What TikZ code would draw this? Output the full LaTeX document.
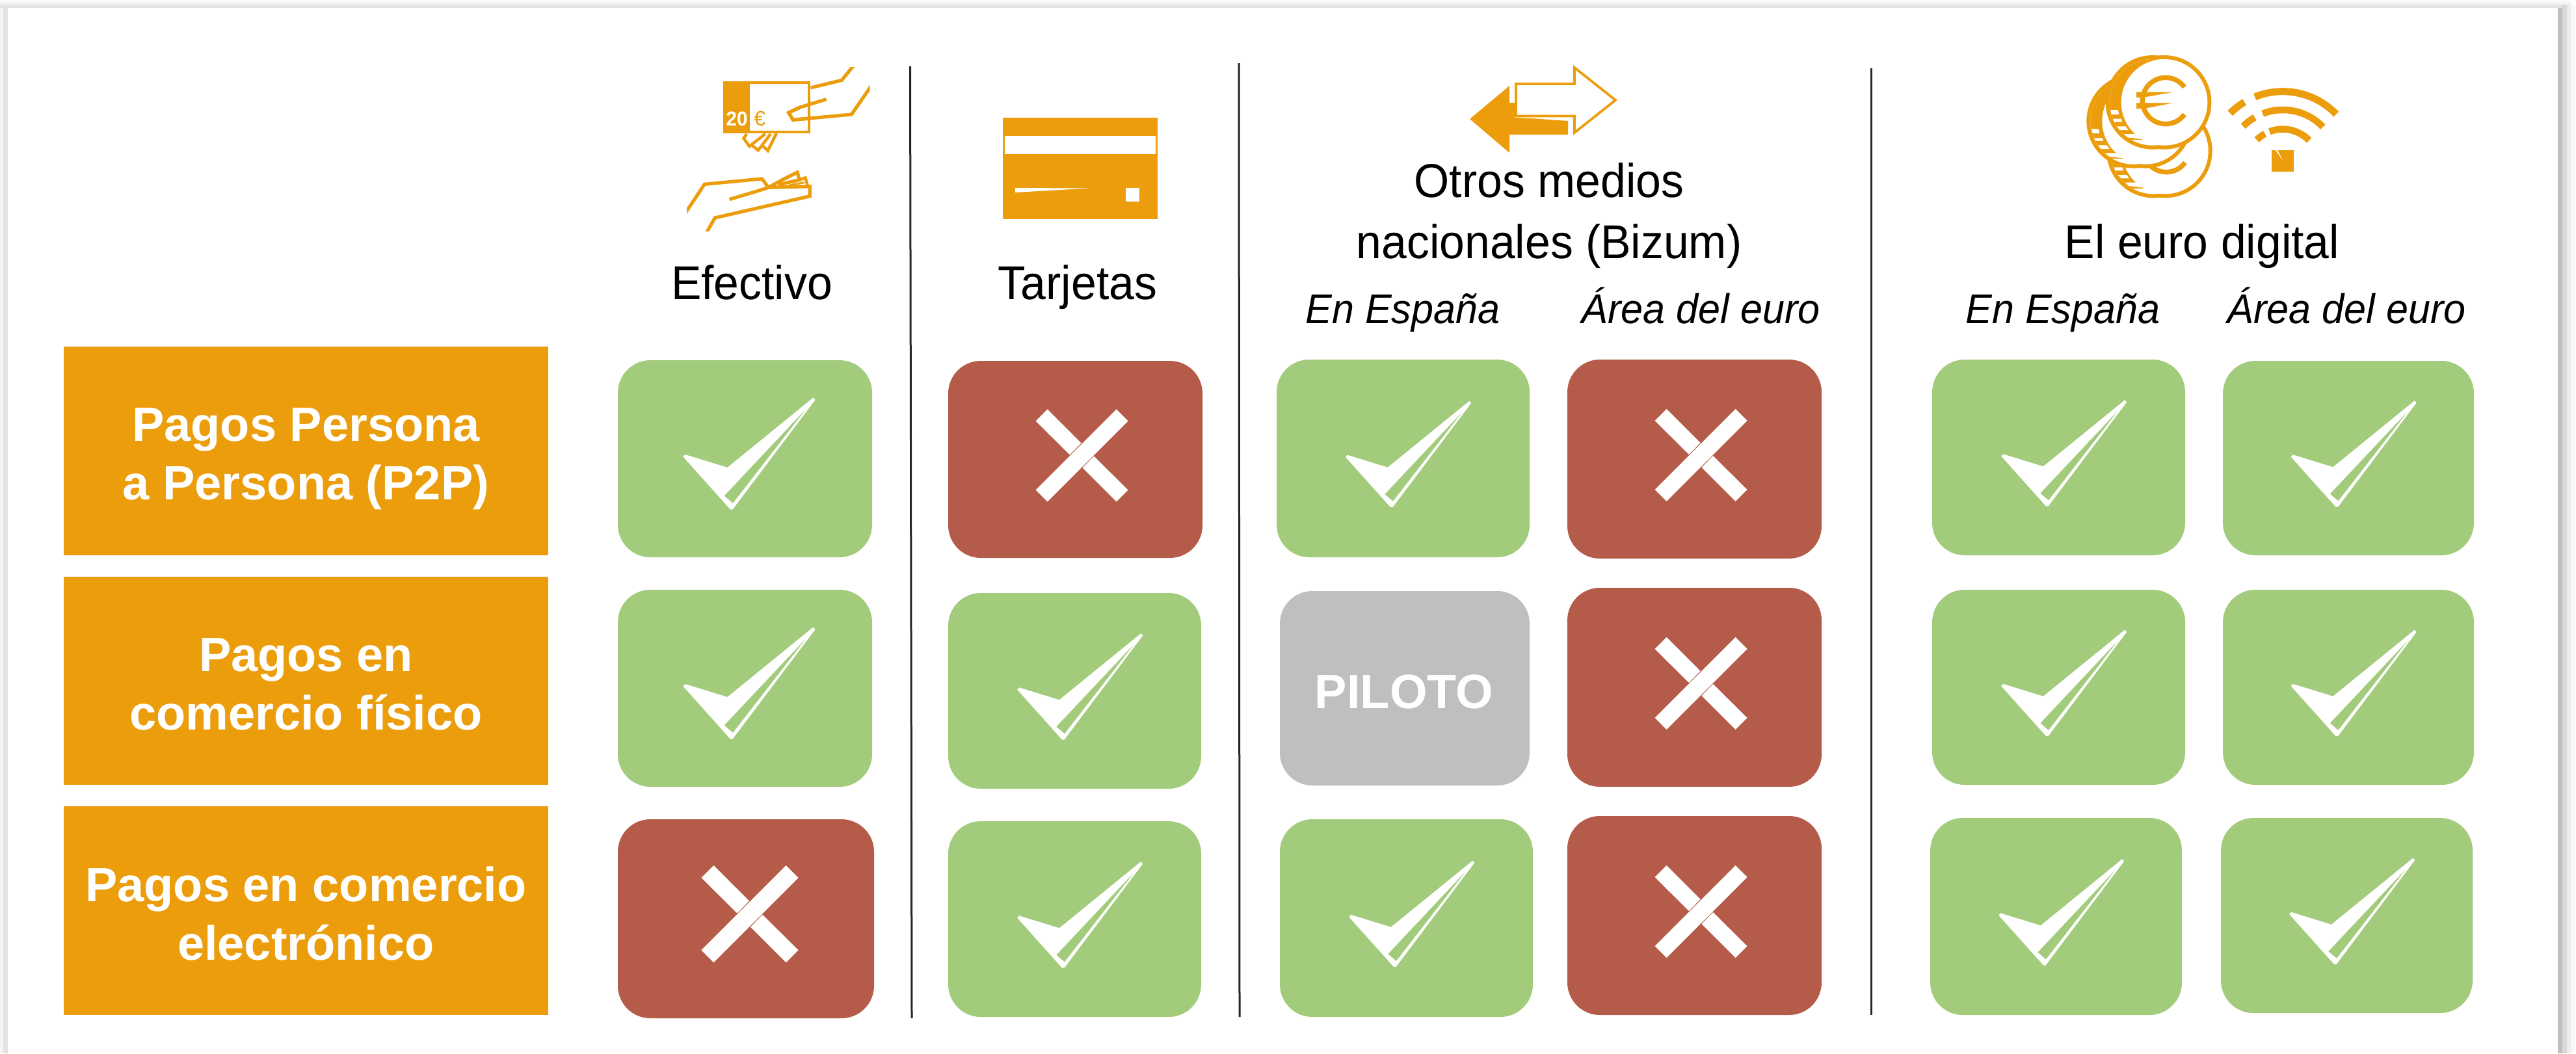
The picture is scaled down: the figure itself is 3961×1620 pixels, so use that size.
\documentclass[tikz,border=0pt]{standalone}
\usepackage{fontspec}
\setmainfont{Liberation Sans}
\newfontfamily\hdrf[FakeStretch=0.955]{Liberation Sans}
\definecolor{orangeC}{HTML}{EC9D0C}
\definecolor{greenC}{HTML}{A3CB7C}
\definecolor{redC}{HTML}{B45C49}
\definecolor{greyC}{HTML}{BFBFBF}
\tikzset{
  cellbox/.style={rounded corners=50pt,inner sep=0pt,outer sep=0pt},
  okbox/.style={cellbox,fill=greenC},
  nobox/.style={cellbox,fill=redC},
  pilotbox/.style={cellbox,fill=greyC,text=white,font=\fontsize{74}{90}\selectfont\bfseries},
  rowlabel/.style={fill=orangeC,text=white,inner sep=0pt,outer sep=0pt,align=center,font=\fontsize{74}{90}\selectfont\bfseries},
  hdr/.style={inner sep=0pt,outer sep=0pt,align=center,anchor=south,font=\hdrf\fontsize{73}{94}\selectfont},
  subhdr/.style={inner sep=0pt,outer sep=0pt,anchor=base,font=\hdrf\fontsize{64}{70}\selectfont\itshape},
  divider/.style={draw=black!85,line width=3pt},
  icon/.style={draw=orangeC,line width=5.2pt,miter limit=6},
}
\newcommand\mkbox[6]{\node[#1,minimum width={(#4-#2)*1pt},minimum height={(#5-#3)*1pt}] (#6) at ({(#2+#4)/2},{(#3+#5)/2}) {};}
\newcommand\chkmk[2]{\begin{scope}[shift={(#1.center)},xshift={(1-#2)*40pt},yshift={-(1-#2)*20pt},scale=#2]
  \fill[white,even odd rule] (105,-94)--(108,-90.5)--(-19,78)--(-22.5,78)--(-95,-3)--(-92,-6.5)--(-27,13.5)--cycle
     (96,-79)--(-32,57)--(-18.5,68.5)--cycle;
\end{scope}}
\newcommand\crossmk[4]{\begin{scope}[shift={(#1.center)},xshift=#2pt,yshift=#3pt,scale=#4]
  \fill[white] (53,-71)--(71,-53)--(-53,71)--(-71,53)--cycle;
  \fill[white] (-53,-71)--(-71,-53)--(-18.5,-1)--(-1,-19)--cycle;
  \fill[white] (53,71)--(71,53)--(18.5,1)--(1,19)--cycle;
\end{scope}}
\newcommand\okcell[6]{\mkbox{okbox}{#1}{#2}{#3}{#4}{#5}\chkmk{#5}{#6}}
\newcommand\nocell[5]{\mkbox{nobox}{#1}{#2}{#3}{#4}{#5}\crossmk{#5}{10}{6}{1}}
\newcommand\twolines[2]{\rule{0pt}{76pt}#1\\#2\rule[-15pt]{0pt}{15pt}}
\newcommand\coin[2]{%
  \fill[orangeC] ({#1-54},#2) circle (217);
  \fill[orangeC] (#1,#2) circle (217);
  \fill[white] ({#1-54},#2) circle (199);
  \begin{scope}
    \clip ({#1-300},{#2-300}) rectangle ({#1+300},{#2+171});
    \fill[orangeC] ({#1-54},#2) circle (199);
  \end{scope}
  \fill[white] (#1,#2) circle (199);
}
\newcommand\wifiarc[4]{\draw[orangeC,line width=#4pt] ({930+#1*cos(#2)},{615-#1*sin(#2)}) arc[start angle=-#2,end angle=-#3,radius=#1];}
\begin{document}
\begin{tikzpicture}[x=1pt,y=-1pt]
\useasboundingbox (0,0) rectangle (3961,1620);
% page card and its shadow
\fill[white] (0,0) rectangle (3961,1620);
\fill[black!2] (0,0) rectangle (3953,4);
\fill[black!6] (0,4) rectangle (3953,8);
\fill[black!11] (0,8) rectangle (3940,12);
\fill[black!4] (0,12) rectangle (5,1620);
\fill[black!11] (5,12) rectangle (12,1620);
\fill[black!3] (3953,8) rectangle (3960,1620);
\fill[black!7] (3947,8) rectangle (3953,1620);
\fill[black!15] (3940,8) rectangle (3947,1620);
\fill[black!25] (3933,12) rectangle (3940,1620);

% row labels
\node[rowlabel,minimum width=745pt,minimum height=321pt] (r1) at (470.5,693.5) {\twolines{Pagos Persona}{a Persona (P2P)}};
\node[rowlabel,minimum width=745pt,minimum height=320pt] (r2) at (470.5,1047) {\twolines{Pagos en}{comercio físico}};
\node[rowlabel,minimum width=745pt,minimum height=321pt] (r3) at (470.5,1400.5) {\twolines{Pagos en comercio}{electrónico}};

% dividers
\coordinate (d1t) at (1399.5,102); \coordinate (d1b) at (1402,1566);
\coordinate (d2t) at (1905,97);    \coordinate (d2b) at (1906,1564);
\coordinate (d3t) at (2877.5,105); \coordinate (d3b) at (2877.5,1561);
\draw[divider] (d1t)--(d1b);
\draw[divider] (d2t)--(d2b);
\draw[divider] (d3t)--(d3b);

% cells
\okcell{950}{554}{1341}{857}{e1}{1}
\okcell{950}{907}{1341}{1210}{e2}{1}
\mkbox{nobox}{950}{1260}{1344}{1566}{e3}\crossmk{e3}{6}{7.4}{1.05}
\nocell{1458}{555}{1849}{858}{t1}
\okcell{1458}{912}{1847}{1213}{t2}{.95}
\okcell{1458}{1263}{1847}{1564}{t3}{.95}
\okcell{1963}{553}{2352}{857}{b1}{.95}
\mkbox{pilotbox}{1968}{909}{2352}{1208}{b2}
\node[anchor=base,inner sep=0pt,text=white,font=\fontsize{74}{90}\selectfont\bfseries] (b2t) at (2159,1089) {PILOTO};
\okcell{1968}{1260}{2357}{1564}{b3}{.95}
\nocell{2410}{553}{2801}{859}{a1}
\nocell{2410}{904}{2801}{1210}{a2}
\nocell{2410}{1255}{2801}{1561}{a3}
\okcell{2971}{553}{3360}{854}{c1}{.95}
\okcell{2971}{907}{3360}{1207}{c2}{.95}
\okcell{2968}{1258}{3355}{1561}{c3}{.95}
\okcell{3418}{555}{3804}{854}{d1}{.95}
\okcell{3418}{907}{3804}{1207}{d2}{.95}
\okcell{3415}{1258}{3802}{1558}{d3}{.95}

% headers
\node[hdr] (hE) at (1156,476) {Efectivo\rule[-16pt]{0pt}{16pt}};
\node[hdr] (hT) at (1657,476) {Tarjetas\rule[-16pt]{0pt}{16pt}};
\node[hdr] (hO) at (2382,413) {Otros medios\\nacionales (Bizum)\rule[-16pt]{0pt}{16pt}};
\node[hdr] (hD) at (3386,413) {El euro digital\rule[-16pt]{0pt}{16pt}};
\node[subhdr] (s1) at (2157,497) {En España};
\node[subhdr] (s2) at (2615,497) {Área del euro};
\node[subhdr] (s3) at (3172,497) {En España};
\node[subhdr] (s4) at (3608,497) {Área del euro};

% cash icon (drawn in 3x units)
\begin{scope}[shift={(1020,80)},scale=.33333]
  \begin{scope}
    \clip (108,69) rectangle (953,825);
    \draw[icon] (680,165)--(823,130)--(880,60);
    \draw[icon] (960,155)--(868,288)--(598,313)--(578,280)--(630,255)--(752,218);
    \draw[icon] (100,745)--(190,610)--(455,585)--(485,625)--(432,642)--(305,680);
    \draw[icon] (195,840)--(238,765)--(676,665)--(676,620)--(485,625)--(548,590)--(618,555)--(628,590)--(530,612);
    \draw[icon,line width=4.5pt] (628,590)--(655,580)--(665,615);
    \draw[icon,line width=3pt] (580,615)--(650,602);
    \draw[icon,line width=4.5pt] (385,378)--(370,398)--(397,435)--(470,378);
    \draw[icon,line width=4.5pt] (410,432)--(438,453)--(495,378);
    \draw[icon,line width=4.5pt] (460,435)--(482,455)--(522,375);
  \end{scope}
  \fill[orangeC] (275,135) rectangle (399,375);
  \draw[orangeC,line width=4.2pt] (281,141) rectangle (673,369);
  \draw[icon] (630,255)--(578,280)--(598,313)--(680,306);
  \node[anchor=base,inner sep=0pt,text=white,font=\hdrf\fontsize{31}{30}\selectfont\bfseries] (n20) at (339,340) {20};
  \node[anchor=base,inner sep=0pt,text=orangeC,font=\fontsize{32}{30}\selectfont] (neu) at (445,340) {€};
\end{scope}

% card icon
\fill[orangeC] (1542,181) rectangle (1780,337);
\fill[white] (1545,209) rectangle (1777,237);
\fill[white] (1561,289)--(1674,289.5)--(1561,296)--cycle;
\fill[white] (1731,289) rectangle (1752,310);

% arrows icon
\fill[orangeC] (2260,183)--(2321,132)--(2321,158)--(2329,158)--(2329,181)--(2355,182)--(2411,186)--(2411,207)--(2321,207)--(2321,235)--cycle;
\draw[orangeC,line width=3.8pt,fill=white,miter limit=8] (2484,154)--(2421,104)--(2421,129)--(2331,129)--(2331,178.5)--(2421,178.5)--(2421,204)--cycle;

% coins icon (3x units)
\begin{scope}[shift={(3200,50)},scale=.33333]
  \coin{388}{546}
  \draw[orangeC,line width=7.5pt] ({393+107*cos(36)},{537-107*sin(36)}) arc[start angle=-36,end angle=-324,radius=107];
  \fill[white] (152,622)--(190,622)--(195,637)--(157,637)--cycle;
  \fill[white] (170,657)--(210,657)--(222,673)--(185,673)--cycle;
  \fill[white] (203,692)--(255,692)--(288,716)--(220,708)--cycle;
  \coin{296}{409}
  \fill[white] (48,445)--(80,445)--(85,465)--(53,465)--cycle;
  \fill[white] (60,487)--(98,487)--(103,500)--(65,500)--cycle;
  \fill[white] (78,520)--(118,520)--(132,537)--(92,537)--cycle;
  \fill[white] (110,556)--(160,556)--(195,580)--(130,572)--cycle;
  \coin{384}{322}
  \fill[white] (135,357)--(170,357)--(175,378)--(140,378)--cycle;
  \fill[white] (148,398)--(185,398)--(190,413)--(152,413)--cycle;
  \fill[white] (165,433)--(205,433)--(218,450)--(178,450)--cycle;
  \fill[white] (197,468)--(248,468)--(283,493)--(215,484)--cycle;
  \draw[orangeC,line width=7.5pt] ({390+107*cos(36)},{315-107*sin(36)}) arc[start angle=-36,end angle=-324,radius=107];
  \fill[orangeC] (255,275)--(425,275)--(295,298)--(255,300)--cycle;
  \fill[orangeC] (255,325)--(425,325)--(295,350)--(255,352)--cycle;
  % wifi
  \wifiarc{343}{44}{112}{11}
  \wifiarc{343}{121}{135}{11}
  \wifiarc{258}{44}{111}{10.5}
  \wifiarc{258}{120}{135}{10.5}
  \wifiarc{169}{44}{111}{10.5}
  \wifiarc{169}{119}{135}{10.5}
  \fill[orangeC] (880,543) rectangle (981,643);
  \fill[white] (897,543)--(906,543)--(930,590)--cycle;
\end{scope}
\end{tikzpicture}
\end{document}
